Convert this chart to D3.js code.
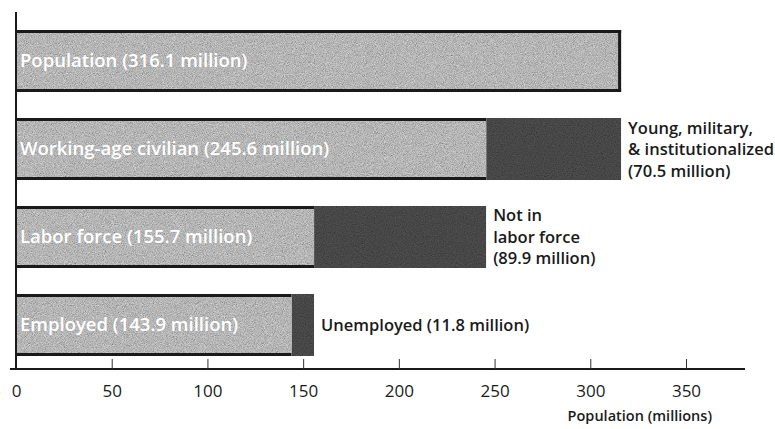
<!DOCTYPE html>
<html>
<head>
<meta charset="utf-8">
<script src="https://cdn.jsdelivr.net/npm/d3@7"></script>
<style>
  body { margin: 0; background: #fff; }
  text { font-family: "Open Sans", "Lato", sans-serif; }
</style>
</head>
<body>
<script>
// data
const categories = ['Population', 'Working-age civilian', 'Labor force', 'Employed'];
const mainValues = [316.1, 245.6, 155.7, 143.9];
const restValues = [0, 70.5, 89.9, 11.8];
const restLabels = [
    [],
    ['Young,  military,', '& institutionalized', '(70.5 million)'],
    ['Not in', 'labor force', '(89.9 million)'],
    ['Unemployed (11.8 million)']
];
const ticks = [0, 50, 100, 150, 200, 250, 300, 350];

const width = 775, height = 429;

const svg = d3.select('body').append('svg')
    .attr('width', width)
    .attr('height', height)

const defs = svg.append('defs')

// speckled print texture
function makeGrain(id, mode, freq) {
    const f = defs.append('filter').attr('id', id)
        .attr('x', 0).attr('y', 0).attr('width', 1).attr('height', 1)
    f.append('feTurbulence')
        .attr('type', 'fractalNoise')
        .attr('baseFrequency', freq)
        .attr('numOctaves', 2)
        .attr('seed', 4)
        .attr('result', 'noise')
    f.append('feColorMatrix')
        .attr('in', 'noise')
        .attr('type', 'matrix')
        .attr('values', '0.33 0.33 0.33 0 0  0.33 0.33 0.33 0 0  0.33 0.33 0.33 0 0  0 0 0 0 1')
        .attr('result', 'gray')
    f.append('feBlend')
        .attr('in', 'SourceGraphic')
        .attr('in2', 'gray')
        .attr('mode', mode)
        .attr('result', 'blend')
    f.append('feComposite')
        .attr('in', 'blend')
        .attr('in2', 'SourceGraphic')
        .attr('operator', 'in')
}
makeGrain('grain', 'soft-light', 1.1)
makeGrain('grainDark', 'multiply', 0.9)

const x = d3.scaleLinear()
    .domain([0, 350])
    .range([16, 686])

const y = d3.scaleBand()
    .domain(categories)
    .range([30, 356])
    .paddingInner(0.295)
    .paddingOuter(0)

// bars
const rows = svg.selectAll('g.row')
    .data(categories)
    .join('g')
    .attr('class', 'row')

rows.append('rect')
    .attr('x', x(0))
    .attr('y', d => y(d))
    .attr('width', (d, i) => x(mainValues[i]) - x(0))
    .attr('height', y.bandwidth())
    .attr('fill', '#b0b0b0')
    .attr('filter', 'url(#grain)')

rows.append('rect')
    .attr('x', (d, i) => x(mainValues[i]))
    .attr('y', d => y(d))
    .attr('width', (d, i) => x(mainValues[i] + restValues[i]) - x(mainValues[i]))
    .attr('height', y.bandwidth())
    .attr('fill', '#646464')
    .attr('filter', 'url(#grainDark)')

// dark top / bottom edges of the light bars
rows.append('line')
    .attr('x1', x(0)).attr('x2', (d, i) => x(mainValues[i]))
    .attr('y1', d => y(d) + 1.5).attr('y2', d => y(d) + 1.5)
    .attr('stroke', '#1a1a1a').attr('stroke-width', 3)
rows.append('line')
    .attr('x1', x(0)).attr('x2', (d, i) => x(mainValues[i]))
    .attr('y1', d => y(d) + y.bandwidth() - 1.5).attr('y2', d => y(d) + y.bandwidth() - 1.5)
    .attr('stroke', '#1a1a1a').attr('stroke-width', 3)
rows.filter((d, i) => restValues[i] === 0).append('line')
    .attr('x1', (d, i) => x(mainValues[0]) - 1.5).attr('x2', (d, i) => x(mainValues[0]) - 1.5)
    .attr('y1', d => y(d)).attr('y2', d => y(d) + y.bandwidth())
    .attr('stroke', '#1a1a1a').attr('stroke-width', 3)

// labels inside bars
rows.append('text')
    .attr('x', x(0) + 4)
    .attr('y', d => y(d) + y.bandwidth() / 2 + 6)
    .attr('fill', '#fff')
    .attr('font-size', 18.5)
    .attr('font-weight', 600)
    .text((d, i) => `${d} (${mainValues[i]} million)`)

// labels to the right
rows.each(function (d, i) {
    const lines = restLabels[i];
    if (!lines.length) return;
    const t = d3.select(this).append('text')
        .attr('fill', '#1a1a1a')
        .attr('font-size', 16.5)
        .attr('font-weight', 600)
    const x0 = x(mainValues[i] + restValues[i]) + 7;
    const yc = y(d) + y.bandwidth() / 2;
    const lh = 21.5;
    lines.forEach((s, k) => {
        t.append('tspan')
            .attr('x', x0)
            .attr('y', yc + 6 + (k - (lines.length - 1) / 2) * lh)
            .text(s)
    })
})

// axes
svg.append('line')
    .attr('x1', x(0)).attr('x2', x(0))
    .attr('y1', 12).attr('y2', 369)
    .attr('stroke', '#1a1a1a').attr('stroke-width', 2)

const xAxis = svg.append('g')
    .attr('transform', 'translate(0,369)')
    .call(d3.axisBottom(x).tickValues(ticks).tickSize(-10).tickPadding(16).tickSizeOuter(0))

xAxis.select('.domain')
    .attr('d', `M10,0H745`)
    .attr('stroke', '#1a1a1a')
    .attr('stroke-width', 2)
xAxis.selectAll('.tick line').attr('stroke', '#333')
xAxis.selectAll('.tick text')
    .attr('font-family', 'Lato, sans-serif')
    .attr('font-size', 17)
    .attr('fill', '#1a1a1a')
xAxis.selectAll('.tick').filter(d => d === 0).select('line').remove()

svg.append('text')
    .attr('x', 712)
    .attr('y', 421)
    .attr('text-anchor', 'end')
    .attr('font-size', 14.5)
    .attr('font-weight', 600)
    .attr('fill', '#1a1a1a')
    .text('Population (millions)')
</script>
</body>
</html>
